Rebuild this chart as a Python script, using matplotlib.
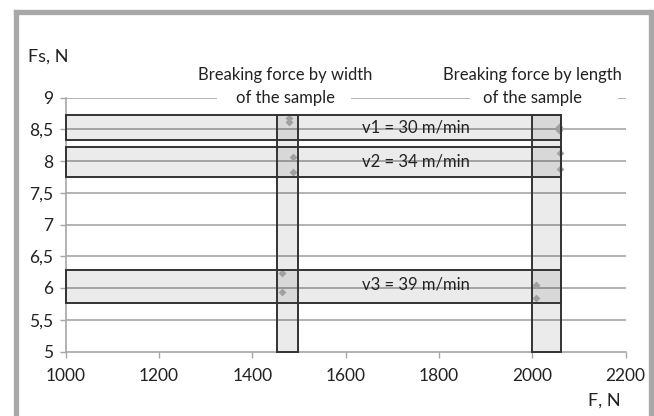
import matplotlib
matplotlib.use("Agg")
import matplotlib.pyplot as plt
from matplotlib.patches import Rectangle

# ---- data ----
speed_labels = ["v1 = 30 m/min", "v2 = 34 m/min", "v3 = 39 m/min"]
speed_fs_low = [8.33, 7.75, 5.76]
speed_fs_high = [8.72, 8.22, 6.29]
speed_label_y = [8.52, 7.99, 6.06]

dir_labels = ["Breaking force by width", "Breaking force by length"]
dir_f_low = [1452, 2000]
dir_f_high = [1497, 2062]

width_F = [1478, 1478, 1486, 1486, 1463, 1463]
width_Fs = [8.67, 8.62, 8.07, 7.82, 6.23, 5.93]
length_F = [2058, 2058, 2060, 2060, 2008, 2008]
length_Fs = [8.53, 8.49, 8.13, 7.87, 6.04, 5.84]

x_ticks = [1000, 1200, 1400, 1600, 1800, 2000, 2200]
y_ticks = [5, 5.5, 6, 6.5, 7, 7.5, 8, 8.5, 9]
y_tick_labels = ["5", "5,5", "6", "6,5", "7", "7,5", "8", "8,5", "9"]

plt.rcParams['font.family'] = ['Lato', 'DejaVu Sans']

fig = plt.figure(figsize=(6.54, 4.16), dpi=100)
W, H = 654, 416
ax = fig.add_axes([65.7 / W, 64.5 / H, 560 / W, 254 / H])

grid_c = "#a6a6a6"
edge_c = "#333333"
text_c = "#222222"

# grid lines
for y in y_ticks[1:]:
    ax.axhline(y, color=grid_c, lw=1.2, zorder=1)

x0, x1 = x_ticks[0], x_ticks[-1]
y0, y1 = y_ticks[0], y_ticks[-1]
ax.set_xlim(x0, x1)
ax.set_ylim(y0, y1)

band_right = max(dir_f_high)
top_band = max(speed_fs_high)

# horizontal speed bands
for lo, hi, lab, ly in zip(speed_fs_low, speed_fs_high, speed_labels, speed_label_y):
    ax.add_patch(Rectangle((x0, lo), band_right - x0, hi - lo, facecolor="black",
                           alpha=0.08, edgecolor="none", zorder=2))
    ax.add_patch(Rectangle((x0, lo), band_right - x0, hi - lo, facecolor="none",
                           edgecolor=edge_c, lw=1.4, zorder=4, clip_on=False))
    ax.text(1750, ly, lab, ha="center", va="center", fontsize=12, color=text_c, zorder=5)

# vertical direction bands
for lo, hi in zip(dir_f_low, dir_f_high):
    ax.add_patch(Rectangle((lo, y0), hi - lo, top_band - y0, facecolor="black",
                           alpha=0.08, edgecolor="none", zorder=2))
    ax.add_patch(Rectangle((lo, y0), hi - lo, top_band - y0, facecolor="none",
                           edgecolor=edge_c, lw=1.4, zorder=4, clip_on=False))

# points
ax.scatter(width_F, width_Fs, marker="D", s=16, color="#a0a0a0", zorder=3, linewidths=0)
ax.scatter(length_F, length_Fs, marker="D", s=16, color="#a0a0a0", zorder=3, linewidths=0)

# direction labels (two lines, the second one interrupting the top grid line)
label_x = [1470, 2000]
gap_x = [(1324, 1611), (1866, 2183)]
for lab, lx, (g0, g1) in zip(dir_labels, label_x, gap_x):
    ax.hlines(y1, g0, g1, color="white", lw=3, zorder=1.5, clip_on=False)
    ax.text(lx, 9.35, lab, ha="center", va="center", fontsize=12, color=text_c, clip_on=False)
    ax.text(lx, 9.0, "of the sample", ha="center", va="center", fontsize=12, color=text_c,
            zorder=6, clip_on=False)

for s in ["top", "right"]:
    ax.spines[s].set_visible(False)
for s in ["left", "bottom"]:
    ax.spines[s].set_color(grid_c)
    ax.spines[s].set_linewidth(1.2)

ax.set_xticks(x_ticks)
ax.set_yticks(y_ticks)
ax.set_yticklabels(y_tick_labels)
ax.tick_params(axis="both", colors=grid_c, labelcolor=text_c, labelsize=12.5, length=4, width=1)
ax.tick_params(axis="x", pad=8)
ax.tick_params(axis="y", pad=5)

fig.text(28 / W, 1 - 57 / H, "Fs, N", ha="left", va="center", fontsize=13, color=text_c)
fig.text(621 / W, 1 - 401 / H, "F, N", ha="right", va="center", fontsize=13, color=text_c)

# outer frame (open at bottom)
frame_c = "#a8a8a8"
fig.add_artist(plt.Line2D([15.5 / W, 15.5 / W], [0, 1 - 11.5 / H], color=frame_c, lw=3.8,
                          transform=fig.transFigure, solid_capstyle="projecting"))
fig.add_artist(plt.Line2D([15.5 / W, 651 / W], [1 - 11.5 / H, 1 - 11.5 / H], color=frame_c, lw=3.8,
                          transform=fig.transFigure, solid_capstyle="projecting"))
fig.add_artist(plt.Line2D([651 / W, 651 / W], [0, 1 - 11.5 / H], color=frame_c, lw=3.8,
                          transform=fig.transFigure, solid_capstyle="projecting"))

fig.savefig("out.png", dpi=100)
